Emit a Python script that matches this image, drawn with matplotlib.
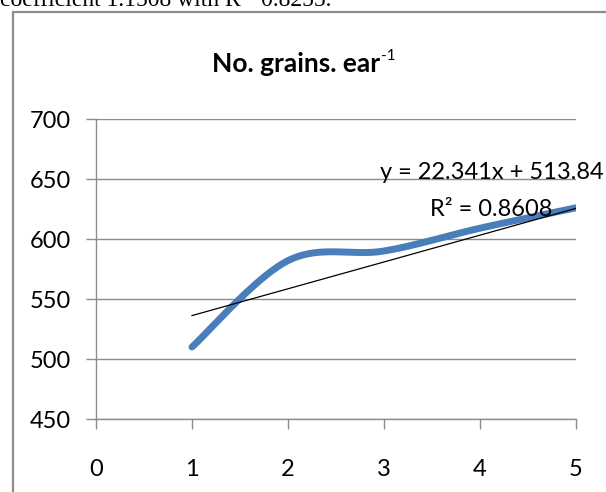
import numpy as np
import matplotlib
matplotlib.use("Agg")
import matplotlib.pyplot as plt
from matplotlib.patches import Rectangle

# values
x_vals = [1, 2, 3, 4, 5]
grains = [510, 582, 590, 609, 626]
trend_slope = 22.341
trend_icept = 513.84
r2_text = "0.8608"
y_ticks = [450, 500, 550, 600, 650, 700]
x_ticks = [0, 1, 2, 3, 4, 5]

FONT = ["Lato", "DejaVu Sans"]
plt.rcParams["font.family"] = FONT


def smooth(xs, ys, n=40):
    # Excel-style smoothed line (catmull-rom bezier)
    px = [xs[0]] + list(xs) + [xs[-1]]
    py = [ys[0]] + list(ys) + [ys[-1]]
    out_x, out_y = [], []
    t = np.linspace(0, 1, n)
    for i in range(1, len(px) - 2):
        p0x, p0y = px[i], py[i]
        p3x, p3y = px[i + 1], py[i + 1]
        c1x = p0x + (px[i + 1] - px[i - 1]) / 6
        c1y = p0y + (py[i + 1] - py[i - 1]) / 6
        c2x = p3x - (px[i + 2] - px[i]) / 6
        c2y = p3y - (py[i + 2] - py[i]) / 6
        bx = (1 - t) ** 3 * p0x + 3 * (1 - t) ** 2 * t * c1x + 3 * (1 - t) * t ** 2 * c2x + t ** 3 * p3x
        by = (1 - t) ** 3 * p0y + 3 * (1 - t) ** 2 * t * c1y + 3 * (1 - t) * t ** 2 * c2y + t ** 3 * p3y
        out_x.extend(bx)
        out_y.extend(by)
    return out_x, out_y


fig = plt.figure(figsize=(6.06, 4.92), dpi=100)
ax = fig.add_axes([96 / 606, 1 - 419 / 492, 480 / 606, 300 / 492])

# chart frame (cut off at right and bottom)
fig.patches.append(Rectangle((13 / 606, -0.1), 1.2, 1 - 12 / 492 + 0.1,
                             transform=fig.transFigure, fill=False,
                             edgecolor="#8c8c8c", linewidth=1.6))

# caption line of the page, cut off at the top
serif = ["Liberation Serif", "DejaVu Serif"]
fig.text(0.0, 1 - 6 / 492, "coefficient 1.1508 with R", fontsize=17,
         family=serif, va="baseline", ha="left")
fig.text(0.40, 1 - 6 / 492, "= 0.8255.", fontsize=17,
         family=serif, va="baseline", ha="left")

sx, sy = smooth(x_vals, grains)
ax.plot(sx, sy, color="#4a7ebb", linewidth=5, solid_capstyle="round", zorder=3)

tx = np.array([x_vals[0], x_vals[-1]])
ax.plot(tx, trend_slope * tx + trend_icept, color="black", linewidth=0.9, zorder=4)

ax.set_xlim(0, 5)
ax.set_ylim(450, 700)
ax.set_xticks(x_ticks)
ax.set_yticks(y_ticks)
ax.grid(axis="y", color="#8c8c8c", linewidth=1)
ax.set_axisbelow(True)
for side in ["top", "right"]:
    ax.spines[side].set_visible(False)
for side in ["left", "bottom"]:
    ax.spines[side].set_color("#8c8c8c")
    ax.spines[side].set_linewidth(1)
ax.tick_params(axis="both", direction="out", length=7, width=1, color="#8c8c8c",
               labelsize=17, labelcolor="#000000")
ax.tick_params(axis="x", pad=22)
ax.tick_params(axis="y", pad=11)

ax.text(2.96, 650, "y = 22.341x + 513.84", fontsize=17, ha="left", va="baseline",
        clip_on=False)
ax.text(3.48, 619, "R\u00b2 = " + r2_text, fontsize=17, ha="left", va="baseline")

# title with superscript -1
renderer = fig.canvas.get_renderer()
title = fig.text(0.5, 1 - 72 / 492, "No. grains. ear", fontsize=19, fontweight="bold",
                 ha="center", va="baseline")
bb = title.get_window_extent(renderer)
sup_w = 14
shift = sup_w / 2 / fig.bbox.width
title.set_x(0.5 - shift)
bb = title.get_window_extent(renderer)
fig.text(bb.x1 / fig.bbox.width + 1 / 606, 1 - 60 / 492, "-1", fontsize=11,
         ha="left", va="baseline")

fig.savefig("out.png", dpi=100)
